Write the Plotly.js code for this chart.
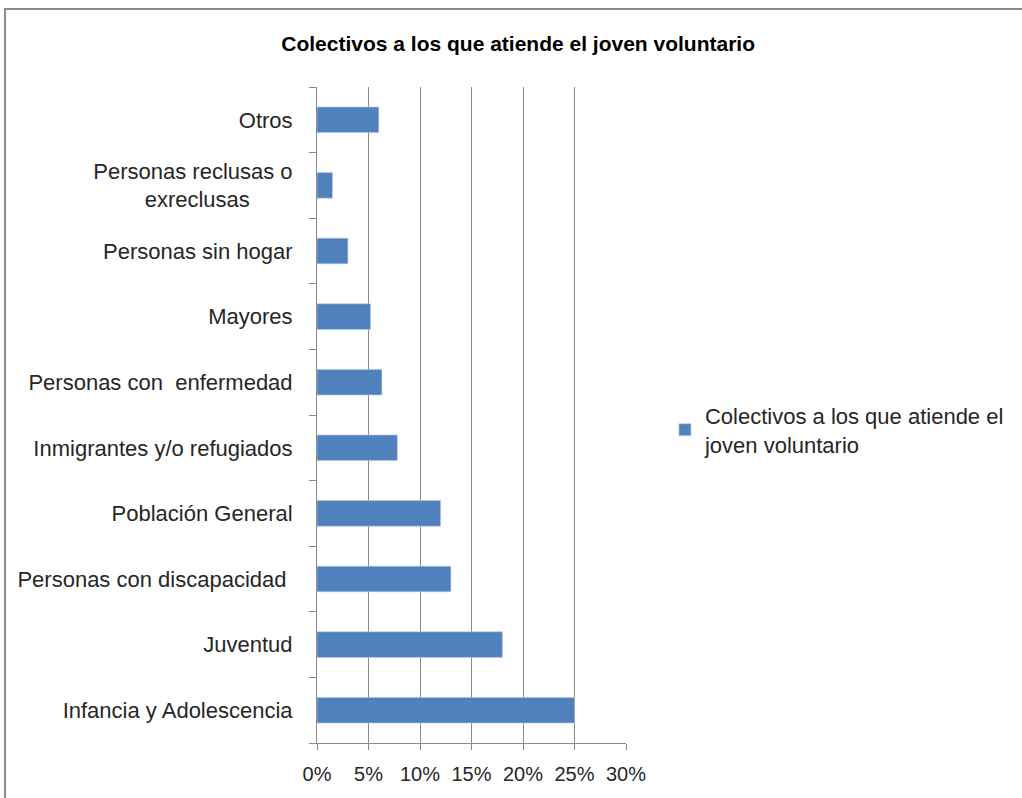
<!DOCTYPE html>
<html><head><meta charset="utf-8">
<script src="https://cdn.plot.ly/plotly-3.0.1.min.js"></script>
<style>body{margin:0;padding:0;background:#fff}#wrap{position:relative;width:1022px;height:798px;overflow:hidden}#chart{width:1022px;height:798px}#frame{position:absolute;left:4px;top:8px;width:1030px;height:800px;border:2px solid #8c8c8c;pointer-events:none}</style>
</head><body>
<div id="wrap"><div id="chart"></div><div id="frame"></div></div>
<script>
const categories = [
  "Infancia y Adolescencia",
  "Juventud",
  "Personas con discapacidad\u00a0",
  "Población General",
  "Inmigrantes y/o refugiados",
  "Personas con\u00a0 enfermedad",
  "Mayores",
  "Personas sin hogar",
  "Personas reclusas o<br>exreclusas\u00a0\u00a0\u00a0\u00a0\u00a0\u00a0\u00a0",
  "Otros"
];
const values = [25, 18, 13, 12, 7.8, 6.3, 5.2, 3.0, 1.5, 6.0];
const seriesName = "Colectivos a los que atiende el<br>joven voluntario";
const xTickVals = [0, 5, 10, 15, 20, 25, 30];
const xTickText = ["0%", "5%", "10%", "15%", "20%", "25%", "30%"];

const fontFam = "Liberation Sans, Arial, sans-serif";
const W = 1022, H = 798;
const L = 317, R = W - 626, T = 87, B = H - 743;

Plotly.newPlot('chart', [{
  type: 'bar', orientation: 'h',
  y: categories, x: values, name: seriesName,
  marker: {color: '#4f81bd', line: {color: '#b9cde5', width: 0.6}},
  showlegend: true, hoverinfo: 'skip'
}], {
  width: W, height: H,
  margin: {l: L, r: R, t: T, b: B, pad: 0, autoexpand: false},
  paper_bgcolor: '#fff', plot_bgcolor: '#fff',
  bargap: 0.61,
  title: {text: '<b>Colectivos a los que atiende el joven voluntario</b>', x: 0.507, xanchor: 'center', y: 0.945, yanchor: 'middle',
          font: {family: fontFam, size: 21, color: '#000'}},
  xaxis: {range: [0, 30], tickvals: xTickVals, ticktext: xTickText, showgrid: true, gridcolor: '#8a8a8a', gridwidth: 1,
          zeroline: false, showline: true, linecolor: '#8a8a8a', linewidth: 1, ticks: 'outside', ticklen: 6, tickcolor: '#8a8a8a',
          ticklabelstandoff: 7, automargin: false,
          tickfont: {family: fontFam, size: 20, color: '#262626'}, fixedrange: true},
  yaxis: {type: 'category', showgrid: false, zeroline: false, showline: true, linecolor: '#8a8a8a', linewidth: 1,
          ticks: 'outside', tickson: 'boundaries', ticklen: 7, tickcolor: '#8a8a8a', ticklabelstandoff: 19, automargin: false,
          tickfont: {family: fontFam, size: 22, color: '#262626'}, fixedrange: true},
  legend: {x: 1.126, xanchor: 'left', y: 0.477, yanchor: 'middle', font: {family: fontFam, size: 22, color: '#262626'},
           bgcolor: 'rgba(0,0,0,0)', itemwidth: 30, tracegroupgap: 0}
}, {displayModeBar: false, staticPlot: true});
</script>
</body></html>
